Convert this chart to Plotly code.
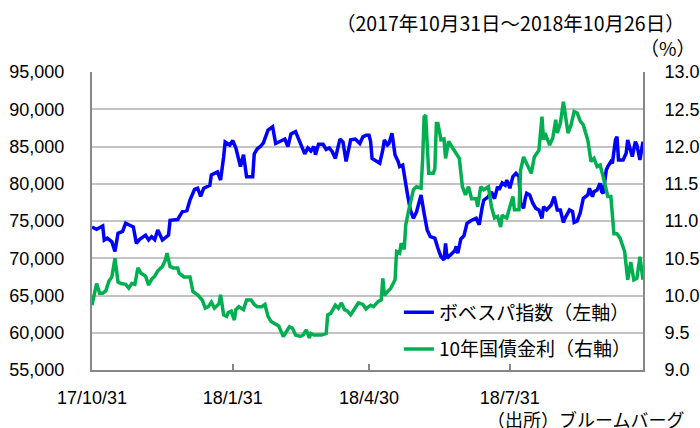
import pandas as pd
import plotly.graph_objects as go

START = "2017-10-31"

# Bovespa index (left axis): elapsed days since 2017-10-31, value
bov_days = [0, 3, 7, 8, 10, 13, 15, 17, 20, 22, 25, 27, 29, 31, 35, 37, 39, 41, 43, 46,
            50, 51, 56, 59, 62, 64, 67, 69, 71, 73, 77, 78, 82, 84, 86, 87, 90, 92, 94, 97,
            99, 101, 105, 106, 108, 110, 112, 115, 118, 120, 123, 126, 128, 130, 133, 135, 137, 139, 141, 143,
            145, 146, 148, 151, 153, 155, 157, 159, 162, 164, 166, 169, 172, 175, 177, 179, 181, 182, 183, 186,
            188, 190, 191, 193, 194, 196, 198, 200, 201, 203, 204, 206, 208, 210, 212, 215, 217, 219, 221, 224,
            226, 228, 230, 231, 232, 235, 237, 238, 239, 241, 243, 245, 248, 251, 253, 255, 256, 259, 261, 263,
            265, 266, 268, 270, 271, 273, 275, 277, 279, 280, 282, 283, 284, 286, 288, 290, 292, 294, 295, 297,
            300, 302, 304, 306, 308, 309, 312, 314, 315, 317, 319, 321, 324, 325, 327, 328, 330, 332, 333, 334,
            336, 337, 339, 340, 342, 343, 344, 347, 349, 350, 352, 353, 355, 356, 358, 360]
bov_vals = [74200, 73900, 74330, 72450, 72700, 72200, 70900, 73350, 73600, 74700, 74400, 74200, 72000, 72500, 73100, 72450, 72900, 72500, 73800, 72450,
            73100, 75100, 75200, 76250, 76400, 77800, 79250, 79400, 78300, 79400, 79800, 81200, 81600, 80500, 83600, 85600, 85200, 85800, 84800, 82300,
            83900, 80950, 80950, 84000, 84700, 85000, 85500, 87200, 87650, 85400, 85700, 86000, 85000, 86700, 87000, 85900, 85000, 84000, 84800, 84400,
            85000, 83900, 85300, 85300, 84600, 84800, 84300, 83400, 86000, 85600, 83000, 85900, 86000, 85400, 86300, 86500, 86500, 85700, 83400, 82970,
            82750, 84540, 85870, 85200, 85400, 86770, 83860, 83000, 82300, 82500, 80950, 78720, 76480, 75360, 76200, 78500, 76000, 73800, 72900, 72700,
            71340, 70220, 69770, 72000, 70000, 70700, 71000, 71600, 70670, 72600, 73000, 74690, 75100, 75360, 74500, 76930, 77800, 78280, 78900, 78000,
            79620, 79200, 80100, 79800, 80500, 79400, 80950, 81400, 80950, 77380, 76700, 78000, 78720, 78500, 77380, 76700, 76480, 75360, 76930, 76480,
            77150, 78260, 76480, 76480, 74800, 75360, 76480, 76260, 74800, 75000, 76100, 78040, 78500, 79400, 78260, 78940, 79170, 80070, 78940, 78720,
            81840, 82300, 82970, 82750, 85870, 86320, 83190, 83190, 84100, 85870, 84540, 83640, 85650, 85200, 83190, 85650]

# 10-year government bond yield (right axis, %): elapsed days since 2017-10-31, value
yld_days = [0, 2, 3, 5, 7, 9, 11, 13, 15, 17, 19, 22, 24, 26, 28, 30, 32, 35, 37, 39,
            41, 43, 46, 48, 49, 51, 53, 56, 57, 60, 64, 66, 69, 72, 74, 76, 78, 80, 83, 84,
            86, 88, 89, 91, 93, 94, 96, 99, 101, 104, 106, 108, 111, 113, 115, 117, 119, 122, 125, 127,
            129, 131, 133, 136, 138, 140, 142, 143, 145, 148, 150, 153, 154, 156, 159, 161, 163, 165, 167, 169,
            172, 174, 177, 179, 182, 184, 187, 189, 190, 191, 193, 195, 198, 199, 201, 202, 204, 205, 207, 210,
            212, 215, 216, 217, 218, 220, 223, 224, 225, 226, 228, 230, 231, 233, 235, 238, 240, 242, 244, 246,
            248, 251, 252, 254, 256, 259, 261, 263, 265, 267, 268, 269, 271, 273, 275, 276, 279, 280, 282, 284,
            287, 289, 291, 292, 294, 295, 296, 299, 301, 303, 304, 306, 308, 311, 313, 315, 317, 319, 321, 324,
            326, 328, 330, 332, 334, 337, 339, 341, 343, 345, 348, 350, 352, 354, 356, 358, 360]
yld_vals = [9.87, 10.07, 10.16, 10.03, 10.03, 10.06, 10.19, 10.25, 10.50, 10.18, 10.16, 10.15, 10.10, 10.16, 10.15, 10.37, 10.30, 10.26, 10.14, 10.22,
            10.26, 10.33, 10.39, 10.48, 10.57, 10.39, 10.37, 10.37, 10.30, 10.25, 10.25, 10.05, 10.01, 9.94, 9.83, 9.85, 9.91, 9.83, 9.89, 10.01,
            9.74, 9.72, 9.77, 9.79, 9.67, 9.81, 9.85, 9.81, 9.94, 9.94, 9.88, 9.85, 9.85, 9.88, 9.72, 9.65, 9.63, 9.59, 9.45, 9.52,
            9.58, 9.56, 9.47, 9.45, 9.47, 9.54, 9.43, 9.49, 9.47, 9.47, 9.47, 9.49, 9.74, 9.76, 9.87, 9.83, 9.90, 9.81, 9.79, 9.74,
            9.83, 9.90, 9.88, 9.82, 9.87, 9.85, 9.92, 9.94, 10.23, 10.00, 10.05, 10.09, 10.21, 10.59, 10.57, 10.70, 10.62, 10.95, 11.15, 11.42,
            11.46, 11.44, 11.82, 12.40, 12.42, 11.64, 11.64, 11.70, 12.31, 12.31, 12.09, 12.10, 11.84, 12.07, 12.00, 11.90, 11.84, 11.46, 11.35, 11.46,
            11.30, 11.30, 11.19, 11.46, 11.42, 11.46, 11.19, 11.04, 11.06, 10.92, 11.08, 11.06, 11.04, 11.19, 11.33, 11.15, 11.15, 11.68, 11.86, 11.77,
            11.64, 11.86, 11.92, 11.95, 12.40, 12.09, 12.18, 12.02, 12.11, 12.36, 12.18, 12.31, 12.60, 12.18, 12.29, 12.47, 12.45, 12.34, 12.29, 12.08,
            11.80, 11.84, 11.73, 11.75, 11.59, 11.33, 11.33, 10.83, 10.83, 10.77, 10.59, 10.21, 10.45, 10.21, 10.23, 10.52, 10.21]

x_tickvals = ["2017-10-31", "2018-01-31", "2018-04-30", "2018-07-31"]
x_ticktext = ["17/10/31", "18/1/31", "18/4/30", "18/7/31"]
left_ticks = [55000, 60000, 65000, 70000, 75000, 80000, 85000, 90000, 95000]
right_ticks = [9.0, 9.5, 10.0, 10.5, 11.0, 11.5, 12.0, 12.5, 13.0]

start = pd.Timestamp(START)
bov_x = start + pd.to_timedelta(bov_days, unit="D")
yld_x = start + pd.to_timedelta(yld_days, unit="D")

FONT = "Liberation Sans, Noto Sans CJK JP, sans-serif"
JFONT = "Noto Sans CJK JP, Liberation Sans, sans-serif"
AXIS = "#878787"
GRID = "#c3c3c3"

fig = go.Figure()
fig.add_trace(go.Scatter(x=bov_x, y=bov_vals, mode="lines", name="ボベスパ指数（左軸）",
                         line=dict(color="#0000ff", width=3.5), legendgroup="a", yaxis="y"))
fig.add_trace(go.Scatter(x=yld_x, y=yld_vals, mode="lines", name="10年国債金利（右軸）",
                         line=dict(color="#00b050", width=3.5), legendgroup="b", yaxis="y2"))

fig.update_layout(
    width=700, height=428,
    margin=dict(l=92, r=57, t=72, b=58, autoexpand=False),
    paper_bgcolor="white", plot_bgcolor="white",
    font=dict(family=FONT, size=18, color="#000000"),
    showlegend=True,
    legend=dict(x=0.557, y=0.257, xanchor="left", yanchor="top",
                bgcolor="rgba(0,0,0,0)", traceorder="grouped", tracegroupgap=9,
                font=dict(family=JFONT, size=19, color="#000000")),
    xaxis=dict(type="date", range=["2017-10-31", "2018-10-26"], automargin=False,
               tickvals=x_tickvals, ticktext=x_ticktext,
               ticks="inside", ticklen=6, tickwidth=1.5, tickcolor=AXIS,
               showline=True, linecolor=AXIS, linewidth=2, showgrid=False,
               ticklabelstandoff=10, tickfont=dict(size=18)),
    yaxis=dict(range=[55000, 95000], tickvals=left_ticks, tickformat=",", automargin=False,
               showline=True, linecolor=AXIS, linewidth=2, ticks="",
               showgrid=True, gridcolor=GRID, gridwidth=1.5, zeroline=False,
               ticklabelstandoff=22, tickfont=dict(size=18)),
    yaxis2=dict(range=[9, 13], tickvals=right_ticks, tickformat=".1f", automargin=False,
                overlaying="y", side="right",
                showline=True, linecolor=AXIS, linewidth=2, ticks="",
                showgrid=False, zeroline=False,
                ticklabelstandoff=16, tickfont=dict(size=18)),
    annotations=[
        dict(text="（2017年10月31日～2018年10月26日）", xref="paper", yref="paper",
             x=1.08, y=1.166, xanchor="right", yanchor="middle", showarrow=False,
             font=dict(family=JFONT, size=19.5, color="#000000")),
        dict(text="（%）", xref="paper", yref="paper",
             x=1.099, y=1.081, xanchor="right", yanchor="middle", showarrow=False,
             font=dict(family=JFONT, size=19, color="#000000")),
        dict(text="（出所）ブルームバーグ", xref="paper", yref="paper",
             x=1.078, y=-0.165, xanchor="right", yanchor="middle", showarrow=False,
             font=dict(family=JFONT, size=18, color="#000000")),
    ],
)

fig.write_html("out.html",
               config={"displayModeBar": False},
               post_script="document.body.style.margin='0';document.body.style.padding='0';"
                           "document.body.style.overflow='hidden';")
